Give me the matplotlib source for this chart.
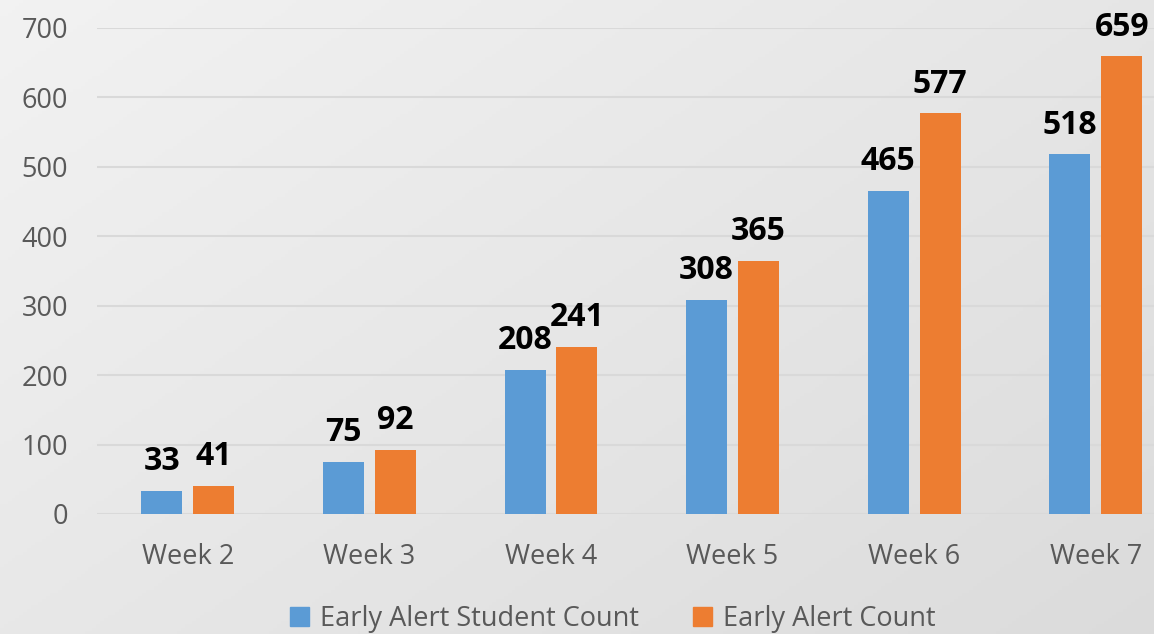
import numpy as np
import matplotlib
matplotlib.use("Agg")
import matplotlib.pyplot as plt
from matplotlib.patches import Patch

weeks = ["Week 2", "Week 3", "Week 4", "Week 5", "Week 6", "Week 7"]
student_count = [33, 75, 208, 308, 465, 518]
alert_count = [41, 92, 241, 365, 577, 659]
series_names = ["Early Alert Student Count", "Early Alert Count"]

blue = "#5b9bd5"
orange = "#ed7d31"
plt.rcParams["font.family"] = ["Open Sans", "DejaVu Sans"]

W, H = 1154, 634
fig = plt.figure(figsize=(W / 100, H / 100), dpi=100)

# background gradient, light top-left to grey bottom-right
bg = fig.add_axes([0, 0, 1, 1], zorder=0)
yy, xx = np.mgrid[0:1:200j, 0:1:300j]
g = 0.95 - 0.09 * (0.55 * xx + 0.45 * yy)
bg.imshow(np.dstack([g, g, g]), extent=[0, 1, 0, 1], origin="upper", aspect="auto")
bg.axis("off")

ax = fig.add_axes([97 / W, 1 - 514 / H, (W - 97) / W, 486 / H], zorder=1)
ax.patch.set_alpha(0)

x = np.arange(len(weeks))
bw = 0.226
off = 0.143
b1 = ax.bar(x - off, student_count, bw, color=blue, zorder=2)
b2 = ax.bar(x + off, alert_count, bw, color=orange, zorder=2)
for bars, vals in ((b1, student_count), (b2, alert_count)):
    for r, v in zip(bars, vals):
        ax.annotate(str(v), (r.get_x() + r.get_width() / 2, v), xytext=(0, 15),
                    textcoords="offset points", ha="center", va="baseline",
                    fontsize=23, fontweight="bold", color="black")

ax.set_ylim(0, 700)
ax.set_xlim(-0.5, (W - 97) / 181.6 - 0.5)
ax.set_yticks(range(0, 701, 100))
ax.set_xticks(x)
ax.set_xticklabels(weeks)
ax.yaxis.grid(True, color="#d9d9d9", linewidth=1.5, zorder=0)
ax.tick_params(length=0, labelsize=19.5, colors="#595959")
ax.tick_params(axis="x", pad=21)
ax.tick_params(axis="y", pad=21)
for s in ax.spines.values():
    s.set_visible(False)

handles = [Patch(color=blue), Patch(color=orange)]
fig.legend(handles, series_names, loc="center", bbox_to_anchor=(613 / W, 1 - 619 / H),
           ncol=2, frameon=False, fontsize=19.5, labelcolor="#595959",
           handlelength=0.7, handleheight=0.7, handletextpad=0.4, columnspacing=2.0)

fig.savefig("out.png", dpi=100)
